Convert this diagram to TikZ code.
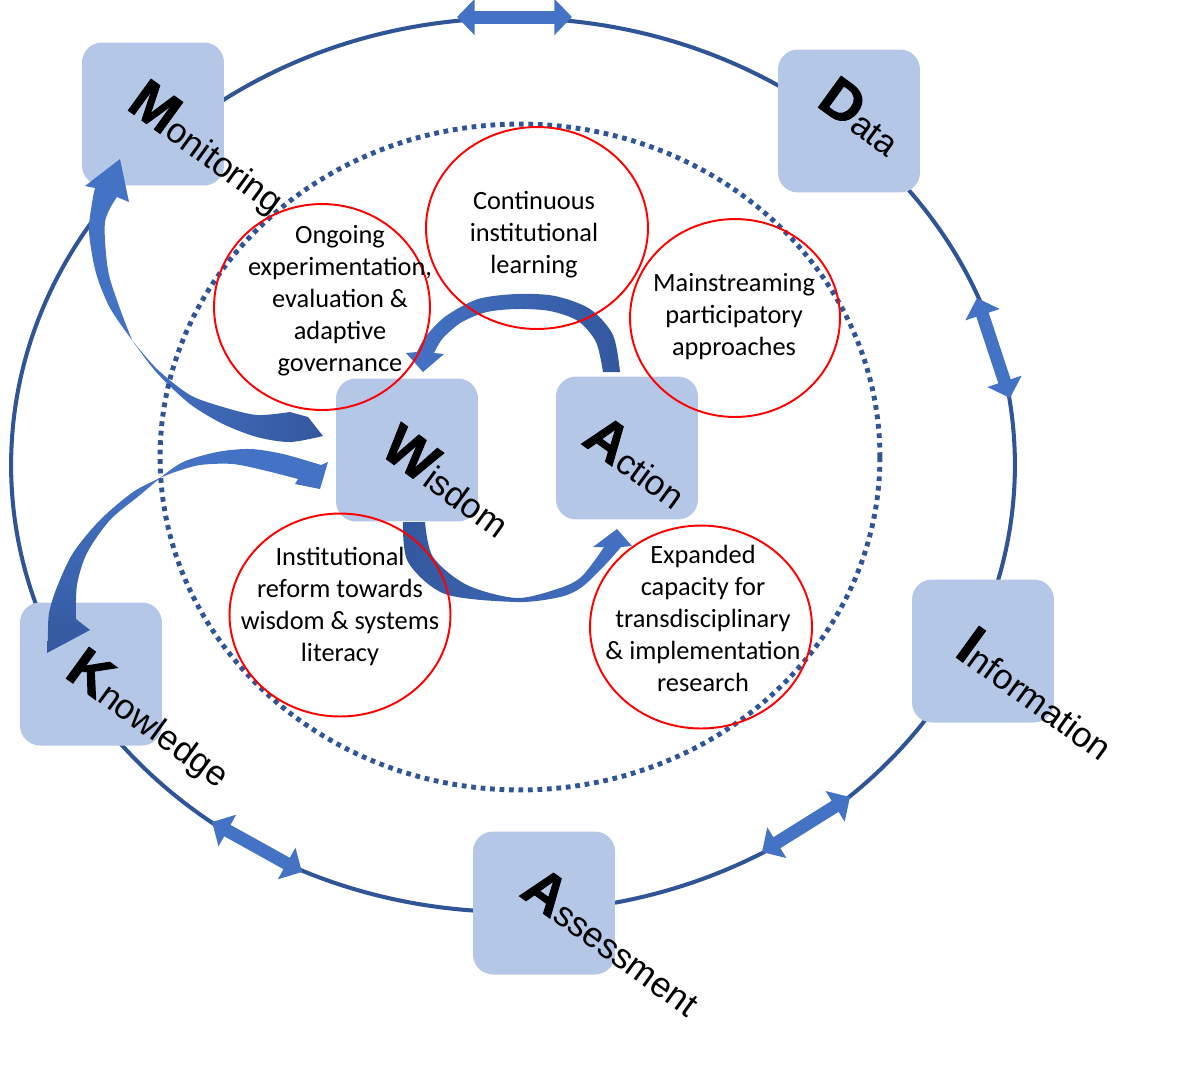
\documentclass[tikz,border=0pt]{standalone}
\usepackage{fontspec}
\setmainfont{Carlito}
\newfontfamily\arialfont{Liberation Sans}
\newfontfamily\heavyfont{Liberation Sans}[FakeBold=1.6]
\usepackage{tikz}
\usetikzlibrary{arrows.meta,shapes.geometric}

\definecolor{boxblue}{HTML}{B4C7E7}
\definecolor{ringblue}{HTML}{2F5597}
\definecolor{arrowblue}{HTML}{4472C4}
\definecolor{darkarrow}{HTML}{34589F}

\newcommand\capL[1]{{\heavyfont\bfseries\fontsize{32}{32}\selectfont #1}}

\tikzset{
  stage/.style={fill=boxblue, rounded corners=0.4cm, minimum width=2.84cm, minimum height=2.86cm, inner sep=0pt},
  lbl/.style={rotate=-36, anchor=base west, inner sep=0pt, font=\arialfont\fontsize{20}{20}\selectfont},
  idea/.style={ellipse, draw=red, line width=1.1pt, inner sep=0pt},
  ideatext/.style={align=center, font=\fontsize{15}{18.2}\selectfont, inner sep=0pt},
  twoway/.style={arrowblue, line width=7.4pt, {Triangle[width=20pt,length=10pt]}-{Triangle[width=20pt,length=10pt]}},
}

\begin{document}
\begin{tikzpicture}[x=0.02cm, y=-0.02cm]
\useasboundingbox (0,0) rectangle (1200,1073);

% Outer cycle
\draw[ringblue, line width=2.3pt] (513,465) ellipse (10.04cm and 8.94cm);

\coordinate (t1) at (457,17);   \coordinate (t2) at (572,17);
\coordinate (r1) at (977,298);  \coordinate (r2) at (1010,398);
\coordinate (b1) at (850,797);  \coordinate (b2) at (762,852);
\coordinate (l1) at (212,822);  \coordinate (l2) at (302,872);
\draw[twoway] (t1) -- (t2);
\draw[twoway] (r1) -- (r2);
\draw[twoway] (b1) -- (b2);
\draw[twoway] (l1) -- (l2);

% Stages
\node[stage] (mon) at (153,114) {};
\node[stage] (dat) at (849,121) {};
\node[stage] (inf) at (983,651) {};
\node[stage] (ass) at (544,903) {};
\node[stage] (kno) at (91,674) {};
\node[stage] (wis) at (407,450) {};
\node[stage] (act) at (627,448) {};

% Curved arrows
\shade[left color=arrowblue, right color=darkarrow]
  plot[smooth] coordinates {(620,372) (613,335) (590,309) (555,296) (517,294) (478,299) (446,316) (426,336) (417,352)}
  -- (406,353) -- (423,372) -- (444,354)
  -- plot[smooth] coordinates {(434,353) (443,338) (462,322) (487,312) (517,309) (550,311) (578,321) (596,342) (603,372)} -- cycle;

\shade[left color=darkarrow, middle color=arrowblue!75, right color=arrowblue]
  plot[smooth] coordinates {(403,522) (408,562) (445,594) (517,602) (560,597) (582,587) (605,565) (621,547)}
  -- (632,546) -- (617,529) -- (593,547)
  -- plot[smooth] coordinates {(604,547) (595,560) (580,578) (560,588) (517,598) (467,585) (433,557) (425,522)} -- cycle;

\fill[arrowblue]
  plot[smooth] coordinates {(132,340) (110,308) (96,273) (89,232) (92,203) (95,188)}
  -- (85,186) -- (120,159) -- (129,202)
  -- plot[smooth] coordinates {(117,197) (105,222) (108,270) (119,306) (132,340)} -- cycle;
\shade[left color=arrowblue, right color=darkarrow]
  plot[smooth] coordinates {(132,340) (157,373) (190,404) (223,424) (257,437) (290,442) (323,436)}
  -- (308,417)
  -- plot[smooth] coordinates {(290,412) (257,415) (223,407) (190,395) (157,369) (132,340)} -- cycle;

\fill[arrowblue]
  plot[smooth] coordinates {(160,478) (183,462) (217,452) (250,449) (283,454) (321,465)}
  -- (328,462) -- (320,489) -- (295,484)
  -- plot[smooth] coordinates {(298,479) (267,471) (233,464) (200,465) (175,472) (160,478)} -- cycle;
\shade[top color=arrowblue, bottom color=darkarrow]
  plot[smooth] coordinates {(160,478) (133,492) (100,520) (73,553) (57,587) (49,613) (48,637)}
  -- (47,653) -- (90,630)
  -- plot[smooth] coordinates {(76,619) (77,585) (87,553) (110,520) (140,495) (160,478)} -- cycle;

% Inner cycle
\draw[ringblue, line width=2.8pt, dash pattern=on 2.7pt off 2.7pt] (520,457) ellipse (7.2cm and 6.66cm);

% Pathways
\node[idea, minimum width=4.32cm, minimum height=4.12cm] (ongo) at (322,307) {};
\node[idea, minimum width=4.44cm, minimum height=4.04cm] (cont) at (537,228) {};
\node[idea, minimum width=4.2cm, minimum height=3.96cm] (main) at (735,318) {};
\node[idea, minimum width=4.42cm, minimum height=4.06cm] (inst) at (340,615) {};
\node[idea, minimum width=4.44cm, minimum height=4.06cm] (expa) at (701,627) {};

\node[ideatext] (ongo-t) at (340,301) {Ongoing\\experimentation,\\evaluation \&\\adaptive\\governance};
\node[ideatext] (cont-t) at (534,235) {Continuous\\institutional\\learning};
\node[ideatext] (main-t) at (734,317) {Mainstreaming\\participatory\\approaches};
\node[ideatext] (inst-t) at (340,606) {Institutional\\reform towards\\wisdom \& systems\\literacy};
\node[ideatext] (expa-t) at (703,618) {Expanded\\capacity for\\transdisciplinary\\\& implementation\\research};

% Stage labels
\node[lbl] (mon-l) at (125,108) {\capL{M}onitoring};
\node[lbl] (dat-l) at (815,105) {\capL{D}ata};
\node[lbl] (inf-l) at (953,655) {\capL{I}nformation};
\node[lbl] (ass-l) at (518,895) {\capL{A}ssessment};
\node[lbl] (kno-l) at (63,676) {\capL{K}nowledge};
\node[lbl] (wis-l) at (378,453) {\capL{W}isdom};
\node[lbl] (act-l) at (580,443) {\capL{A}ction};
\end{tikzpicture}
\end{document}
